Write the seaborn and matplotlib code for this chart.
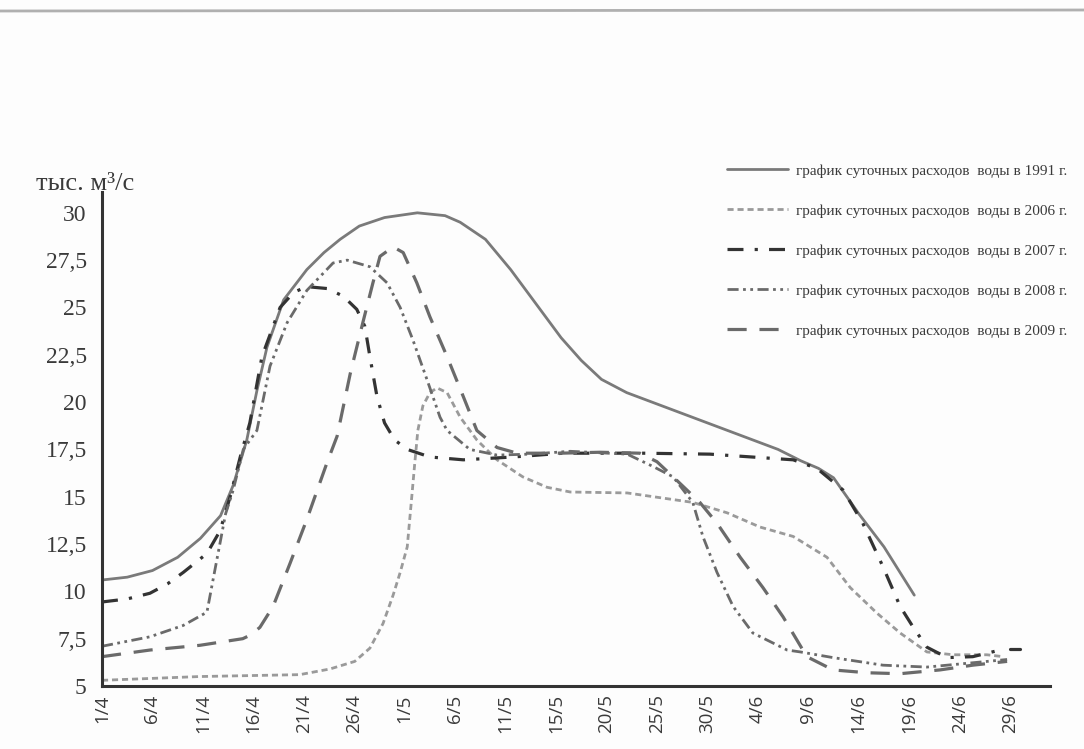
import matplotlib
matplotlib.use("Agg")
import matplotlib.pyplot as plt
import seaborn as sns
from matplotlib.lines import Line2D

# ---------------- data (x in tick steps: 0 = 1/4, 1 = 6/4, ...) ----------------
tick_labels = ["1/4", "6/4", "11/4", "16/4", "21/4", "26/4", "1/5", "6/5", "11/5",
               "15/5", "20/5", "25/5", "30/5", "4/6", "9/6", "14/6", "19/6", "24/6", "29/6"]
y_ticks = [5, 7.5, 10, 12.5, 15, 17.5, 20, 22.5, 25, 27.5, 30]
y_tick_labels = ["5", "7,5", "10", "12,5", "15", "17,5", "20", "22,5", "25", "27,5", "30"]

x_1991 = [0, 0.5, 1.0, 1.5, 1.95, 2.35, 2.6, 2.87, 3.07, 3.27, 3.6, 4.06, 4.4, 4.72, 5.1,
          5.6, 6.25, 6.8, 7.1, 7.6, 8.1, 8.6, 9.1, 9.5, 9.9, 10.4, 11.05, 11.7, 12.4, 12.9,
          13.4, 13.85, 14.2, 14.5, 15.0, 15.5, 16.1]
v_1991 = [10.6, 10.75, 11.1, 11.8, 12.8, 14.0, 15.6, 18.0, 20.6, 22.9, 25.4, 27.0, 27.9,
          28.6, 29.3, 29.75, 30.0, 29.85, 29.5, 28.6, 27.0, 25.2, 23.4, 22.2, 21.2, 20.5,
          19.85, 19.2, 18.5, 18.0, 17.5, 16.9, 16.5, 16.0, 14.1, 12.35, 9.8]

x_2006 = [0, 1.94, 3.92, 4.52, 5.01, 5.31, 5.57, 5.77, 5.91, 6.05, 6.14, 6.20, 6.26, 6.36,
          6.50, 6.64, 6.84, 7.10, 7.43, 7.83, 8.34, 8.82, 9.28, 10.41, 11.71, 12.39, 13.04,
          13.70, 14.37, 14.83, 15.36, 15.82, 16.35, 16.87, 17.54, 17.86]
v_2006 = [5.3, 5.5, 5.6, 5.9, 6.3, 7.0, 8.3, 9.8, 11.0, 12.35, 15.0, 16.8, 18.5, 19.8,
          20.5, 20.75, 20.5, 19.2, 18.0, 16.95, 16.05, 15.5, 15.25, 15.2, 14.7, 14.15, 13.4,
          12.9, 11.8, 10.2, 8.85, 7.8, 6.8, 6.65, 6.65, 6.55]

x_2007 = [0, 0.5, 0.95, 1.3, 1.61, 2.08, 2.34, 2.54, 2.74, 2.93, 3.17, 3.53, 3.8, 4.06,
          4.46, 4.78, 5.05, 5.21, 5.31, 5.45, 5.6, 5.8, 6.05, 6.50, 7.16, 8.15, 9.14, 10.72,
          12.05, 13.70, 14.17, 14.69, 15.08, 15.48, 15.82, 16.08, 16.35, 16.75, 17.26, 17.80]
v_2007 = [9.44, 9.6, 9.9, 10.4, 11.0, 12.0, 13.2, 15.0, 17.1, 18.9, 22.4, 25.0, 25.8, 26.1,
          26.0, 25.6, 24.9, 24.0, 22.4, 20.3, 18.9, 18.0, 17.5, 17.1, 16.95, 17.1, 17.3, 17.3,
          17.25, 16.95, 16.5, 15.35, 13.6, 11.3, 9.2, 8.1, 7.05, 6.5, 6.55, 6.9]
x_2007_tail = [18.0, 18.2]
v_2007_tail = [6.95, 6.95]

x_2008 = [0, 0.95, 1.61, 2.08, 2.2, 2.45, 2.6, 2.8, 3.07, 3.33, 3.67, 4.06, 4.58, 4.86,
          5.31, 5.65, 5.91, 6.16, 6.44, 6.70, 6.84, 7.29, 7.83, 8.48, 9.28, 10.41, 10.92,
          11.32, 11.71, 11.91, 12.19, 12.51, 12.90, 13.58, 13.84, 14.49, 15.48, 16.35,
          17.15, 17.94]
v_2008 = [7.1, 7.6, 8.2, 8.9, 10.6, 14.1, 15.35, 17.5, 18.5, 21.9, 24.2, 25.9, 27.35, 27.5,
          27.15, 26.3, 25.0, 23.3, 21.2, 19.2, 18.5, 17.5, 17.2, 17.25, 17.4, 17.25, 16.6,
          16.05, 14.7, 12.9, 11.0, 9.2, 7.8, 6.9, 6.8, 6.5, 6.1, 6.0, 6.2, 6.4]

x_2009 = [0, 0.95, 1.94, 2.79, 2.95, 3.13, 3.39, 3.73, 4.06, 4.46, 4.66, 4.92, 5.17, 5.37,
          5.51, 5.77, 5.97, 6.24, 6.50, 6.84, 7.16, 7.43, 7.83, 8.23, 9.08, 9.87, 10.66,
          11.0, 11.32, 11.85, 12.19, 12.65, 13.10, 13.50, 13.78, 13.97, 14.49, 15.16, 15.82,
          16.61, 17.26, 17.94]
v_2009 = [6.55, 6.9, 7.15, 7.5, 7.7, 8.1, 9.2, 11.5, 13.8, 16.8, 18.2, 21.5, 24.2, 26.3,
          27.7, 28.2, 27.9, 26.3, 24.5, 22.4, 20.3, 18.5, 17.6, 17.3, 17.3, 17.35, 17.3,
          16.85, 16.05, 14.7, 13.6, 11.8, 10.2, 8.65, 7.4, 6.55, 5.85, 5.7, 5.65, 5.85, 6.1,
          6.3]

labels = ["график суточных расходов  воды в 1991 г.",
          "график суточных расходов  воды в 2006 г.",
          "график суточных расходов  воды в 2007 г.",
          "график суточных расходов  воды в 2008 г.",
          "график суточных расходов  воды в 2009 г."]

# ---------------- styling ----------------
sns.set_theme(style="white")
plt.rcParams["font.family"] = ["Liberation Serif", "DejaVu Serif"]
TEXT = "#3a3a3a"
AXC = "#333333"

fig = plt.figure(figsize=(10.84, 7.49), dpi=100)
fig.patch.set_facecolor("#fdfdfd")
ax = fig.add_axes([102 / 1084, 1 - 686 / 749, (1050 - 102) / 1084, (686 - 192) / 749])
ax.set_facecolor("none")

styles = [
    dict(color="#7a7a7a", lw=2.0, linestyle="-"),
    dict(color="#9a9a9a", lw=2.0, linestyle=(0, (2.2, 1.4))),
    dict(color="#333333", lw=2.3, linestyle=(0, (5, 3.5, 1, 3.5))),
    dict(color="#6a6a6a", lw=2.0, linestyle=(0, (4, 1.6, 1, 1.6, 1, 1.6))),
    dict(color="#6a6a6a", lw=2.3, linestyle=(0, (6, 4))),
]
series = [(x_1991, v_1991), (x_2006, v_2006), (x_2007, v_2007), (x_2008, v_2008), (x_2009, v_2009)]

for (xs, vs), st, lab in zip(series, styles, labels):
    sns.lineplot(x=xs, y=vs, ax=ax, estimator=None, sort=True, label=lab, **st)
sns.lineplot(x=x_2007_tail, y=v_2007_tail, ax=ax, estimator=None, color="#333333", lw=2.3,
             linestyle="-")

ax.set_xlim(0, 18.79)
ax.set_ylim(5, 31.1)
ax.set_xticks(range(len(tick_labels)))
ax.set_xticklabels(tick_labels, rotation=90, fontsize=13.5, color=TEXT,
                   family=["Open Sans", "DejaVu Sans"])
ax.set_yticks(y_ticks)
ax.set_yticklabels(y_tick_labels, fontsize=17, color=TEXT)
ax.tick_params(axis="x", direction="in", length=8, width=2, color=AXC, pad=6)
ax.tick_params(axis="y", direction="out", length=7, width=2, color=AXC, pad=4)
for s in ["top", "right"]:
    ax.spines[s].set_visible(False)
for s in ["left", "bottom"]:
    ax.spines[s].set_color(AXC)
    ax.spines[s].set_linewidth(2.2)
ax.set_xlabel("")
ax.set_ylabel("")

fig.text(36 / 1084, 1 - 184 / 749, "тыс. м³/с", fontsize=19, color=TEXT, va="center", ha="left")

leg = ax.legend(loc="upper left", bbox_to_anchor=(727 / 1084, 1 - 164 / 749),
                bbox_transform=fig.transFigure, frameon=False, fontsize=11,
                handlelength=4.0, handletextpad=0.5, labelspacing=1.72, borderpad=0,
                borderaxespad=0)
for t in leg.get_texts():
    t.set_color(TEXT)

# scan edge line at the top of the page
fig.add_artist(Line2D([0.0, 1.0], [1 - 11 / 749, 1 - 10 / 749], transform=fig.transFigure,
                      color="#b0b0b0", lw=2))

fig.savefig("out.png", dpi=100, facecolor=fig.get_facecolor())
